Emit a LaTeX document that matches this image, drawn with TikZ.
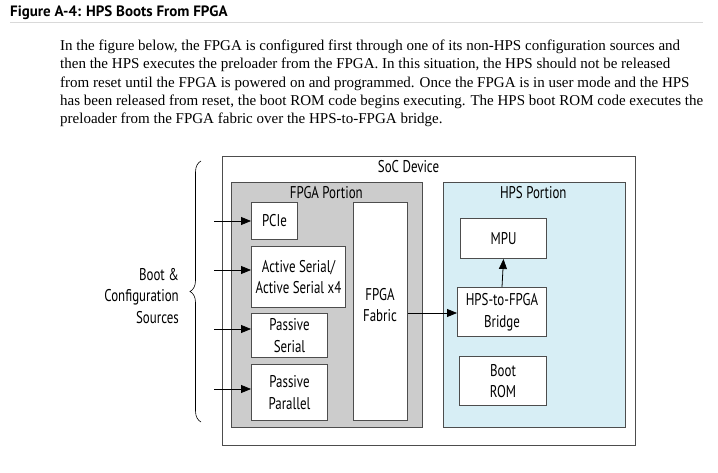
\documentclass[tikz,border=0pt]{standalone}
\usepackage{fontspec}
\setmainfont{Liberation Serif}
\newfontfamily\dfont[FakeStretch=0.76]{PT Sans}
\newfontfamily\tfont{PT Sans}
\usetikzlibrary{arrows.meta,decorations.pathreplacing}
\definecolor{edge}{HTML}{4D4D4D}
\definecolor{fpgagray}{HTML}{CCCCCC}
\definecolor{hpsblue}{HTML}{D7EEF5}
\definecolor{rulegray}{HTML}{D9D9D9}
\newlength\Lone
\begin{document}
\settowidth\Lone{\fontsize{10pt}{12pt}\selectfont In the figure below, the FPGA is configured first through one of its non-HPS configuration sources and}%
\pgfmathsetmacro\psz{10*620/\Lone}%
\begin{tikzpicture}[x=1pt,y=-1pt,
  box/.style={draw=edge,line width=1pt,fill=white,anchor=north west,inner sep=0pt,align=center,font=\dfont\fontsize{17}{21.7}\selectfont},
  region/.style={draw=edge,line width=1pt,anchor=north west,inner sep=0pt},
  lbl/.style={font=\dfont\fontsize{17}{21.7}\selectfont,inner sep=0pt,align=center},
  arr/.style={-{Triangle[length=10pt,width=8pt]},line width=0.8pt,black},
  para/.style={anchor=base west,inner sep=0pt,font=\fontsize{\psz pt}{18pt}\selectfont}]
\fill[white] (0,0) rectangle (718,473);
\useasboundingbox (0,0) rectangle (718,473);
% title
\node[anchor=base west,inner sep=0pt,font=\tfont\bfseries\fontsize{15}{18}\selectfont] (title) at (10,16.7) {Figure A-4: HPS Boots From FPGA};
\draw[rulegray,line width=1pt] (10,22.5) -- (703,22.5);
% paragraph
\node[para] (p1) at (60,50.7) {In the figure below, the FPGA is configured first through one of its non-HPS configuration sources and};
\node[para] (p2) at (60,68.9) {then the HPS executes the preloader from the FPGA. In this situation, the HPS should not be released};
\node[para] (p3) at (60,87.1) {from reset until the FPGA is powered on and programmed. Once the FPGA is in user mode and the HPS};
\node[para] (p4) at (60,105.3) {has been released from reset, the boot ROM code begins executing. The HPS boot ROM code executes the};
\node[para] (p5) at (60,123.5) {preloader from the FPGA fabric over the HPS-to-FPGA bridge.};
% regions
\node[region,minimum width=413pt,minimum height=289pt] (soc) at (222,156) {};
\node[lbl,anchor=base] (soct) at (408.5,172.7) {SoC Device};
\node[region,fill=fpgagray,minimum width=191pt,minimum height=245pt] (fpga) at (231,182) {};
\node[lbl,anchor=base] (fpgat) at (326.3,198.3) {FPGA Portion};
\node[region,fill=hpsblue,minimum width=182pt,minimum height=245pt] (hps) at (443,182) {};
\node[lbl,anchor=base] (hpst) at (533.3,198.3) {HPS Portion};
% FPGA blocks
\node[box,minimum width=46pt,minimum height=37pt] (pcie) at (251,202) {PCIe};
\node[box,minimum width=94pt,minimum height=61pt] (as) at (251,246) {Active Serial/\\Active Serial x4};
\node[box,minimum width=76pt,minimum height=44pt] (ps) at (251,313) {Passive\\Serial};
\node[box,minimum width=76pt,minimum height=56pt] (pp) at (251,364) {Passive\\Parallel};
\node[box,minimum width=54pt,minimum height=218pt] (fab) at (353,202) {};
\node[lbl] (fabt) at (380,305) {FPGA\\Fabric};
% HPS blocks
\node[box,minimum width=86pt,minimum height=40pt] (mpu) at (460,218) {MPU};
\node[box,minimum width=89pt,minimum height=49pt] (br) at (457,287) {HPS-to-FPGA\\Bridge};
\node[box,minimum width=87pt,minimum height=49pt] (rom) at (459,356) {Boot\\ROM};
% sources
\node[lbl,align=right,anchor=east] (src) at (179,296) {Boot \&\\Configuration\\Sources};
\draw[decorate,decoration={brace,amplitude=11pt},line width=0.6pt] (201,422) -- (201,161);
% arrows
\coordinate (in1) at (214,221);
\coordinate (in2) at (214,270);
\coordinate (in3) at (214,329);
\coordinate (in4) at (214,389);
\draw[arr] (in1) -- (in1 -| pcie.west);
\draw[arr] (in2) -- (in2 -| as.west);
\draw[arr] (in3) -- (in3 -| ps.west);
\draw[arr] (in4) -- (in4 -| pp.west);
\coordinate (fb) at (430,313);
\draw[arr] (fb -| fab.east) -- (fb -| br.west);
\draw[arr] (br.north) -- (mpu.south);
\end{tikzpicture}
\end{document}
